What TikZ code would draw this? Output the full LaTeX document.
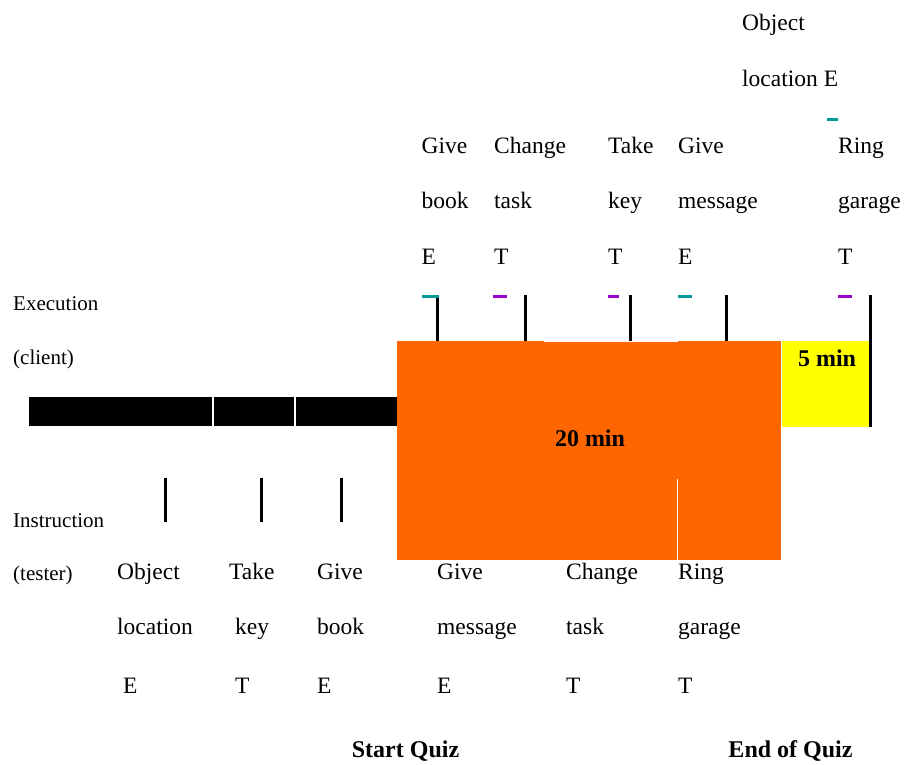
\documentclass[tikz,border=0pt]{standalone}
\usepackage{fontspec}
\setmainfont{Liberation Serif}
\definecolor{quizorange}{RGB}{255,102,0}
\definecolor{extrayellow}{RGB}{255,255,0}
\definecolor{markteal}{RGB}{0,153,153}
\definecolor{markpurple}{RGB}{153,0,204}
\tikzset{
  lab/.style={anchor=base west, inner sep=0pt, font=\fontsize{23.5}{28}\selectfont},
  side/.style={anchor=base west, inner sep=0pt, font=\fontsize{21}{25}\selectfont},
  boldlab/.style={anchor=base, inner sep=0pt, font=\fontsize{24}{28}\selectfont\bfseries},
  tick/.style={line width=3pt, black},
  sep/.style={line width=1.2pt, white},
}
\begin{document}
\begin{tikzpicture}[x=1pt, y=-1pt]
\useasboundingbox (0,0) rectangle (904,764);

% timeline bar before the quiz
\fill[black] (29,397) rectangle (397,426);
\draw[sep] (213,397) -- (213,426);
\draw[sep] (295,397) -- (295,426);

% quiz period (20 min)
\fill[quizorange] (397,341) rectangle (544,560);
\fill[quizorange] (544,342) rectangle (678,560);
\fill[quizorange] (678,341) rectangle (781,560);
\draw[sep] (677.5,479) -- (677.5,560);

% extra period (5 min)
\fill[extrayellow] (782,341) rectangle (869,426.5);
\draw[tick] (870,295) -- (870,426.5);

% execution ticks
\draw[tick] (437.5,297) -- (437.5,341);
\draw[tick] (525,295) -- (525,341);
\draw[tick] (630,295) -- (630,341);
\draw[tick] (726,295) -- (726,341);

% instruction ticks
\draw[tick] (165,478) -- (165,522);
\draw[tick] (261,478) -- (261,522);
\draw[tick] (341,478) -- (341,522);

% E / T markers
\fill[markteal]   (422,295) rectangle (439,297.7);
\fill[markpurple] (493,295) rectangle (507,297.7);
\fill[markpurple] (608,295) rectangle (619,297.7);
\fill[markteal]   (678,295) rectangle (692,297.7);
\fill[markpurple] (838,295) rectangle (852,297.7);
\fill[markteal]   (827,118) rectangle (838,120.7);

% durations
\node[boldlab] (dur20) at (590,446) {20 min};
\node[boldlab] (dur5) at (827,366) {5 min};

% row labels
\node[side] (exec) at (13,310) {Execution};
\node[side] (client) at (13,364) {(client)};
\node[side] (instr) at (13,527) {Instruction};
\node[side] (tester) at (13,580) {(tester)};

% execution labels (top)
\node[lab] (eObjA) at (742,30.5) {Object};
\node[lab] (eObjB) at (742,86) {location E};
\node[lab] (eBookA) at (421.5,153) {Give};
\node[lab] (eBookB) at (421.5,208) {book};
\node[lab] (eBookC) at (421.5,264) {E};
\node[lab] (eTaskA) at (494,153) {Change};
\node[lab] (eTaskB) at (494,208) {task};
\node[lab] (eTaskC) at (494,264) {T};
\node[lab] (eKeyA) at (608,153) {Take};
\node[lab] (eKeyB) at (608,208) {key};
\node[lab] (eKeyC) at (608,264) {T};
\node[lab] (eMsgA) at (678,153) {Give};
\node[lab] (eMsgB) at (678,208) {message};
\node[lab] (eMsgC) at (678,264) {E};
\node[lab] (eRingA) at (838,153) {Ring};
\node[lab] (eRingB) at (838,208) {garage};
\node[lab] (eRingC) at (838,264) {T};

% instruction labels (bottom)
\node[lab] (iObjA) at (117,579) {Object};
\node[lab] (iObjB) at (117,634) {location};
\node[lab] (iObjC) at (123,693) {E};
\node[lab] (iKeyA) at (229,579) {Take};
\node[lab] (iKeyB) at (235,634) {key};
\node[lab] (iKeyC) at (235,693) {T};
\node[lab] (iBookA) at (317,579) {Give};
\node[lab] (iBookB) at (317,634) {book};
\node[lab] (iBookC) at (317,693) {E};
\node[lab] (iMsgA) at (437,579) {Give};
\node[lab] (iMsgB) at (437,634) {message};
\node[lab] (iMsgC) at (437,693) {E};
\node[lab] (iTaskA) at (566,579) {Change};
\node[lab] (iTaskB) at (566,634) {task};
\node[lab] (iTaskC) at (566,693) {T};
\node[lab] (iRingA) at (678,579) {Ring};
\node[lab] (iRingB) at (678,634) {garage};
\node[lab] (iRingC) at (678,693) {T};

% quiz boundaries
\node[boldlab] (start) at (405.5,757) {Start Quiz};
\node[boldlab] (end) at (790.5,757) {End of Quiz};
\end{tikzpicture}
\end{document}
